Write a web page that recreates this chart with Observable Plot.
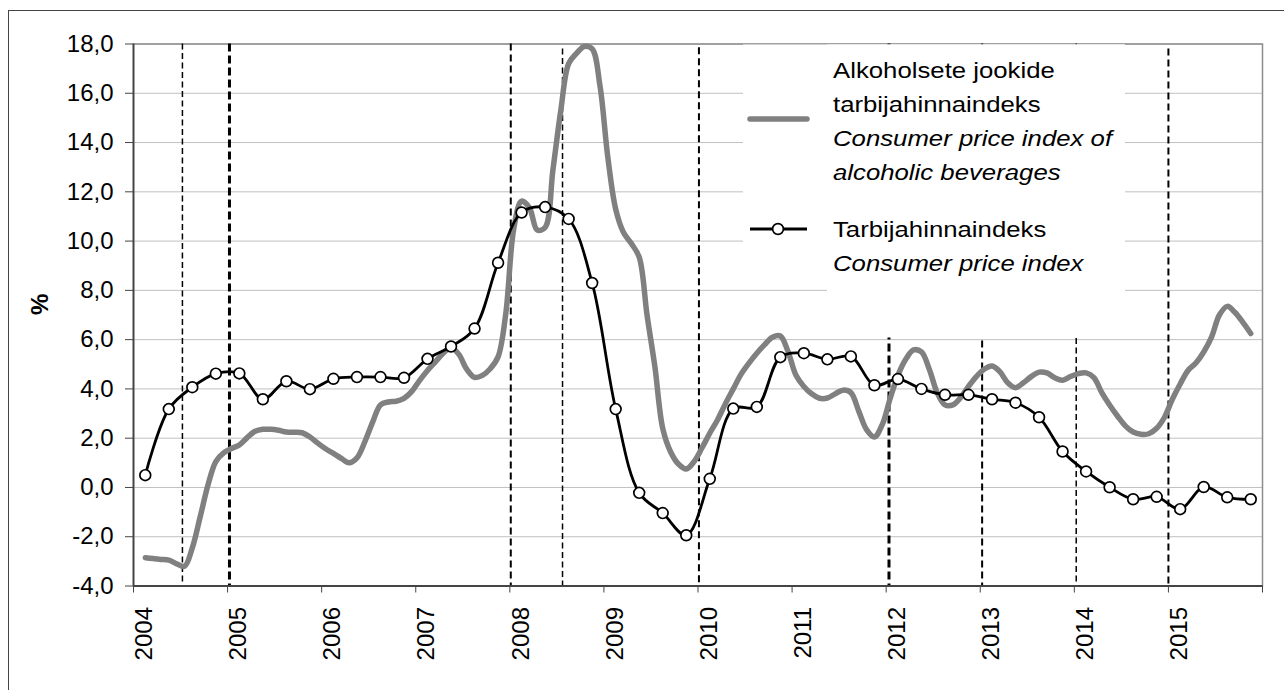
<!DOCTYPE html>
<html><head><meta charset="utf-8">
<script src="https://cdn.jsdelivr.net/npm/d3@7"></script>
<script src="https://cdn.jsdelivr.net/npm/@observablehq/plot@0.6"></script>
<style>
html,body{margin:0;padding:0;background:#fff;}
#wrap{position:relative;width:1284px;height:690px;overflow:hidden;background:#fff;}
#border{position:absolute;left:8px;top:10px;width:1300px;height:720px;border:1.5px solid #444;pointer-events:none;}
</style></head>
<body><div id="wrap"><div id="chart"></div><div id="border"></div></div>
<script>
// Alcoholic beverages CPI, % change, monthly from Feb 2004 to Nov 2015
const alcoholStart = [2004, 2];
const alcoholValues = [
  -2.85, -2.88, -2.92, -2.95, -3.1, -3.2, -2.45, -1.2, 0.1, 1.05, 1.4, 1.58,
  1.72, 2.02, 2.28, 2.36, 2.36, 2.32, 2.25, 2.24, 2.22, 2.05, 1.8, 1.57,
  1.38, 1.18, 1.0, 1.2, 1.85, 2.65, 3.35, 3.47, 3.5, 3.62, 3.9, 4.35,
  4.75, 5.1, 5.45, 5.68, 5.4, 4.8, 4.47, 4.55, 4.82, 5.3, 7.1, 10.5,
  11.62, 11.35, 10.45, 10.55, 12.9, 15.3, 17.2, 17.62, 17.9, 17.8, 16.3, 13.4,
  11.3, 10.35, 9.9, 9.35, 7.0, 4.9, 2.4, 1.45, 0.95, 0.75, 1.05, 1.6,
  2.2, 2.75, 3.4, 4.0, 4.6, 5.05, 5.45, 5.8, 6.1, 6.15, 5.5, 4.55,
  4.1, 3.8, 3.62, 3.63, 3.8, 3.95, 3.85, 3.1, 2.35, 2.05, 2.55, 3.6,
  4.55, 5.2, 5.58, 5.5, 4.8, 3.85, 3.35, 3.35, 3.65, 4.1, 4.5, 4.8,
  4.93, 4.7, 4.25, 4.05, 4.25, 4.5, 4.68, 4.65, 4.45, 4.35, 4.5, 4.62,
  4.65, 4.46, 3.85, 3.35, 2.9, 2.5, 2.25, 2.16, 2.18, 2.4, 2.85, 3.58,
  4.2, 4.75, 5.05, 5.5, 6.1, 7.0, 7.35, 7.1, 6.7, 6.25
];
// Consumer price index, % change, every third month (Feb, May, Aug, Nov) from Feb 2004
const cpiStart = [2004, 2];
const cpiStepMonths = 3;
const cpiValues = [
  0.5, 3.18, 4.07, 4.62,
  4.63, 3.58, 4.31, 3.99,
  4.41, 4.48, 4.48, 4.45,
  5.22, 5.72, 6.45, 9.12,
  11.16, 11.38, 10.9, 8.3,
  3.18, -0.22, -1.04, -1.94,
  0.35, 3.2, 3.27, 5.29,
  5.45, 5.2, 5.32, 4.15,
  4.4, 4.0, 3.76, 3.76,
  3.58, 3.44, 2.85, 1.46,
  0.65, 0.01, -0.48, -0.38,
  -0.88, 0.02, -0.4, -0.48
];
// Excise tax change dates (decimal years) shown as dashed lines
const exciseDates = [2004.52, 2005.02, 2008.01, 2008.56, 2010.01, 2012.03, 2013.02, 2014.02, 2015.0];
const exciseKind = ["thin", "thick", "medium", "thin", "medium", "thick", "medium", "thin", "medium"];
const exciseTop = [18, 18, 18, 17.8, 17.85, 18, 18, 18, 17.8];
const yTicks = [-4, -2, 0, 2, 4, 6, 8, 10, 12, 14, 16, 18];
const yearTicks = [2004, 2005, 2006, 2007, 2008, 2009, 2010, 2011, 2012, 2013, 2014, 2015, 2016];
const yearLabels = [2004, 2005, 2006, 2007, 2008, 2009, 2010, 2011, 2012, 2013, 2014, 2015];
const legendLines = {
  alcohol: ["Alkoholsete jookide", "tarbijahinnaindeks", "Consumer price index of", "alcoholic beverages"],
  cpi: ["Tarbijahinnaindeks", "Consumer price index"]
};

const toYear = (y, m) => y + (m - 0.5) / 12;
const alcohol = alcoholValues.map((v, i) => ({x: toYear(alcoholStart[0], alcoholStart[1] + i), v}));
const cpi = cpiValues.map((v, i) => ({x: toYear(cpiStart[0], cpiStart[1] + i * cpiStepMonths), v}));
const excise = exciseDates.map((x, i) => ({x, kind: exciseKind[i], top: exciseTop[i]}));
const fmt = d => d.toFixed(1).replace(".", ",");
const FONT = "'Liberation Sans', Arial, Helvetica, sans-serif";
const ruleStyle = {
  thin: {strokeWidth: 1.5, strokeDasharray: "6,3.5"},
  medium: {strokeWidth: 2.0, strokeDasharray: "7,4"},
  thick: {strokeWidth: 3.0, strokeDasharray: "8,4"}
};

const plot = Plot.plot({
  width: 1284, height: 690,
  marginLeft: 133, marginRight: 22, marginTop: 43.5, marginBottom: 104.5,
  style: {fontFamily: FONT, fontSize: "24px", color: "#000", background: "transparent"},
  x: {domain: [2004, 2016]},
  y: {domain: [-4, 18]},
  marks: [
    Plot.gridY(yTicks, {stroke: "#c0c0c0", strokeOpacity: 1, strokeWidth: 1}),
    Plot.frame({stroke: "#8c8c8c", strokeWidth: 1.5}),
    ...Object.keys(ruleStyle).map(k => Plot.ruleX(excise.filter(d => d.kind === k), {
      x: "x", y1: "top", y2: -4, stroke: "#000", ...ruleStyle[k]
    })),
    Plot.line(alcohol, {x: "x", y: "v", stroke: "#808080", strokeWidth: 5.5, curve: "catmull-rom", strokeLinejoin: "round", strokeLinecap: "round"}),
    Plot.line(cpi, {x: "x", y: "v", stroke: "#000", strokeWidth: 2.8, curve: "catmull-rom"}),
    Plot.dot(cpi, {x: "x", y: "v", r: 5.4, fill: "#fff", stroke: "#000", strokeWidth: 1.7}),
    Plot.axisY(yTicks, {tickSize: 8, tickPadding: 12, tickFormat: fmt, stroke: "#444", fontSize: 24, label: null}),
    Plot.axisX(yearTicks, {tickSize: 7, tickFormat: () => "", stroke: "#444", label: null}),
    Plot.axisX(yearLabels, {tickSize: 0, tickRotate: -90, tickPadding: 21, dx: 11, tickFormat: d => String(d), fontSize: 24, label: null}),
    Plot.ruleX([2004], {stroke: "#444", strokeWidth: 1.8}),
    Plot.ruleY([-4], {stroke: "#444", strokeWidth: 1.8}),
    Plot.text(["%"], {frameAnchor: "left", dx: -93, rotate: -90, fontWeight: "bold", fontSize: 24, fill: "#000"})
  ]
});
document.getElementById("chart").appendChild(plot);

// Legend (drawn in the SVG on top of the plot area)
const svg = d3.select(plot);
const lg = svg.append("g").attr("font-family", FONT).attr("font-size", 23).attr("fill", "#000")
  .attr("text-anchor", "start");
lg.append("rect").attr("x", 743).attr("y", 44.5).attr("width", 382).attr("height", 222).attr("fill", "#fff");
lg.append("rect").attr("x", 827).attr("y", 44.5).attr("width", 298).attr("height", 293).attr("fill", "#fff");
lg.append("line").attr("x1", 750).attr("x2", 807).attr("y1", 119).attr("y2", 119)
  .attr("stroke", "#808080").attr("stroke-width", 5.5).attr("stroke-linecap", "round");
lg.append("line").attr("x1", 750).attr("x2", 807).attr("y1", 229).attr("y2", 229)
  .attr("stroke", "#000").attr("stroke-width", 2.8);
lg.append("circle").attr("cx", 778).attr("cy", 229).attr("r", 5.4)
  .attr("fill", "#fff").attr("stroke", "#000").attr("stroke-width", 1.7);
const tg = lg.append("g").attr("transform", "translate(833,0) scale(1.12,1)");
const rows = [
  [legendLines.alcohol[0], 78, false],
  [legendLines.alcohol[1], 112, false],
  [legendLines.alcohol[2], 146, true],
  [legendLines.alcohol[3], 180, true],
  [legendLines.cpi[0], 237, false],
  [legendLines.cpi[1], 271, true]
];
rows.forEach(([t, y, it]) => {
  tg.append("text").attr("x", 0).attr("y", y).attr("text-anchor", "start")
    .attr("font-style", it ? "italic" : "normal").text(t);
});
</script>
</body></html>
